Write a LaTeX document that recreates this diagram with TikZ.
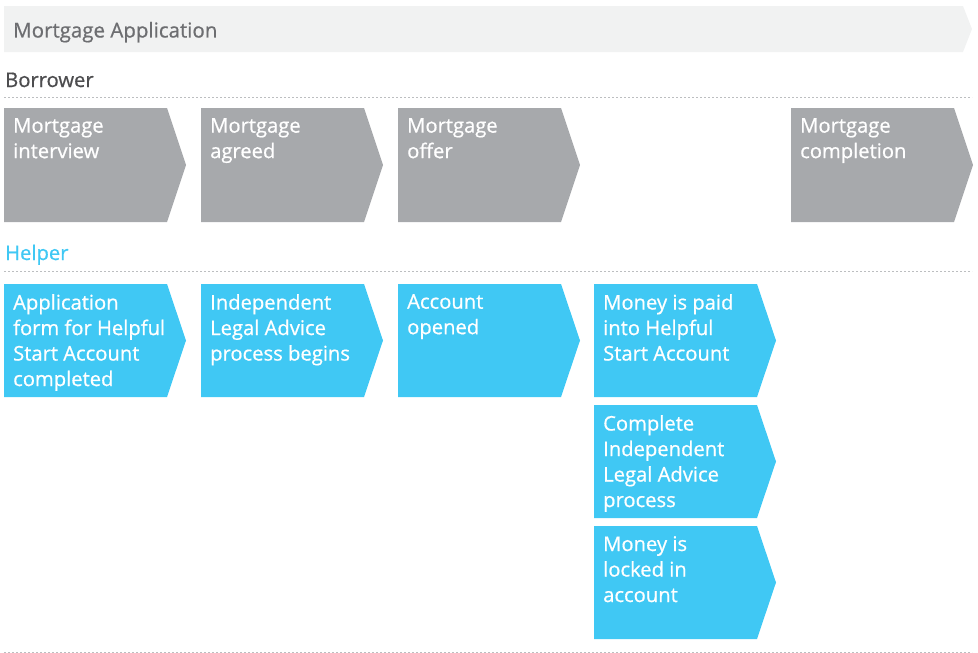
\documentclass[tikz,border=0pt]{standalone}
\usepackage{fontspec}
\setmainfont{Open Sans}[RawFeature={embolden=0.7}]
\definecolor{boxgray}{HTML}{A7A9AC}
\definecolor{boxblue}{HTML}{40C8F4}
\definecolor{barbg}{HTML}{F1F2F2}
\definecolor{bartext}{HTML}{6D6E71}
\definecolor{lanetext}{HTML}{4D4D4F}
\definecolor{dotgray}{HTML}{BCBEC0}
\tikzset{
  lanesep/.style={draw=dotgray, line width=1pt, dash pattern=on 2pt off 2pt},
  boxtext/.style={anchor=north west, inner sep=0pt, align=left, text=white,
    font=\fontsize{20.2}{25.5}\selectfont},
  lanelabel/.style={anchor=base west, inner sep=0pt, font=\fontsize{20.2}{24}\selectfont},
}
% #1 x-left, #2 top, #3 bottom, #4 colour, #5 name, #6 text
\newcommand\chevbox[6]{%
  \fill[#4] (#1,#2) -- ({#1+163},#2) -- ({#1+182},{(#2+#3)/2}) -- ({#1+163},#3) -- (#1,#3) -- cycle;
  \node[boxtext] (#5) at ({#1+9},{#2+10}) {#6};
}
\begin{document}
\begin{tikzpicture}[x=1pt,y=-1pt]
\useasboundingbox (0,0) rectangle (978,653);
% title bar
\fill[barbg] (4,6) -- (963,6) -- (972,29) -- (963,52) -- (4,52) -- cycle;
\node[anchor=base west, inner sep=0pt, text=bartext, font=\fontsize{20.5}{24}\selectfont] (title) at (13,37.5) {Mortgage Application};
% lanes
\node[lanelabel, text=lanetext] (borrower) at (5,87) {Borrower};
\draw[lanesep] (4,97) -- (972,97);
\node[lanelabel, text=boxblue] (helper) at (5,260) {Helper};
\draw[lanesep] (4,271) -- (972,271);
\draw[lanesep] (4,652) -- (972,652);
% borrower row
\chevbox{4}{108}{222}{boxgray}{b1}{Mortgage\\interview}
\chevbox{201}{108}{222}{boxgray}{b2}{Mortgage\\agreed}
\chevbox{398}{108}{222}{boxgray}{b3}{Mortgage\\offer}
\chevbox{791}{108}{222}{boxgray}{b5}{Mortgage\\completion}
% helper row
\chevbox{4}{284}{397}{boxblue}{h1}{Application\\form for Helpful\\Start Account\\completed}
\chevbox{201}{284}{397}{boxblue}{h2}{Independent\\Legal Advice\\process begins}
\chevbox{398}{284}{397}{boxblue}{h3}{Account\\opened}
\chevbox{594}{284}{397}{boxblue}{h4}{Money is paid\\into Helpful\\Start Account}
\chevbox{594}{405}{518}{boxblue}{h5}{Complete\\Independent\\Legal Advice\\process}
\chevbox{594}{526}{639}{boxblue}{h6}{Money is\\locked in\\account}
\end{tikzpicture}
\end{document}
